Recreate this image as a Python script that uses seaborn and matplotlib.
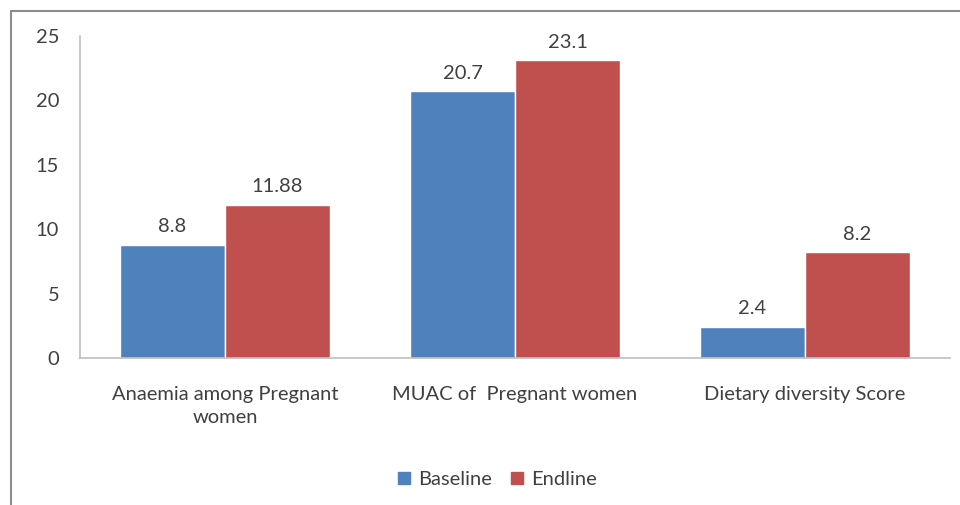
import matplotlib
matplotlib.use("Agg")
import matplotlib.pyplot as plt
from matplotlib.lines import Line2D
import seaborn as sns
import pandas as pd

categories = ["Anaemia among Pregnant\nwomen", "MUAC of  Pregnant women", "Dietary diversity Score"]
baseline = [8.8, 20.7, 2.4]
endline = [11.88, 23.1, 8.2]
value_labels_baseline = ["8.8", "20.7", "2.4"]
value_labels_endline = ["11.88", "23.1", "8.2"]
series_names = ["Baseline", "Endline"]
y_ticks = [0, 5, 10, 15, 20, 25]

colors = ["#4F81BD", "#C0504D"]

df = pd.DataFrame({
    "category": categories * 2,
    "value": baseline + endline,
    "series": [series_names[0]] * 3 + [series_names[1]] * 3,
})

sns.set_theme(style="white")
plt.rcParams["font.family"] = ["Lato", "DejaVu Sans"]
text_color = "#404040"
fs = 14.5

fig = plt.figure(figsize=(9.6, 5.05), dpi=100)
ax = fig.add_axes([80 / 960, 1 - 358 / 505, 870 / 960, 322 / 505])

sns.barplot(data=df, x="category", y="value", hue="series", palette=colors,
            width=0.725, saturation=1, ax=ax, legend=False, errorbar=None)

ax.set_ylim(0, 25)
ax.set_xlim(-0.5, 2.5)
ax.set_yticks(y_ticks)
ax.set_yticklabels([str(t) for t in y_ticks])
ax.set_xlabel("")
ax.set_ylabel("")

for s in ["top", "right"]:
    ax.spines[s].set_visible(False)
for s in ["left", "bottom"]:
    ax.spines[s].set_color("#BFBFBF")
    ax.spines[s].set_linewidth(1.2)

ax.tick_params(axis="y", length=0, pad=15, labelsize=fs, labelcolor=text_color)
ax.tick_params(axis="x", length=0, pad=20, labelsize=fs, labelcolor=text_color)
for lbl in ax.get_xticklabels():
    lbl.set_linespacing(1.45)

labels_by_series = [value_labels_baseline, value_labels_endline]
for container, labels in zip(ax.containers, labels_by_series):
    ax.bar_label(container, labels=labels, padding=7, fontsize=fs, color=text_color)

handles = [Line2D([0], [0], marker="s", linestyle="none", markersize=8,
                  markerfacecolor=c, markeredgecolor=c) for c in colors]
fig.legend(handles, series_names, loc="center", bbox_to_anchor=(497 / 960, 1 - 479 / 505),
           ncol=2, frameon=False, fontsize=fs, handlelength=0.7, handletextpad=0.35,
           columnspacing=0.9, labelcolor=text_color)

# outer frame lines along the top and left edges
fig.add_artist(Line2D([11 / 960, 1.0], [1 - 11 / 505, 1 - 11 / 505],
                      transform=fig.transFigure, color="#8C8C8C", linewidth=1.5))
fig.add_artist(Line2D([11 / 960, 11 / 960], [0, 1 - 11 / 505],
                      transform=fig.transFigure, color="#8C8C8C", linewidth=1.5))

fig.savefig("out.png", dpi=100, facecolor="white")
